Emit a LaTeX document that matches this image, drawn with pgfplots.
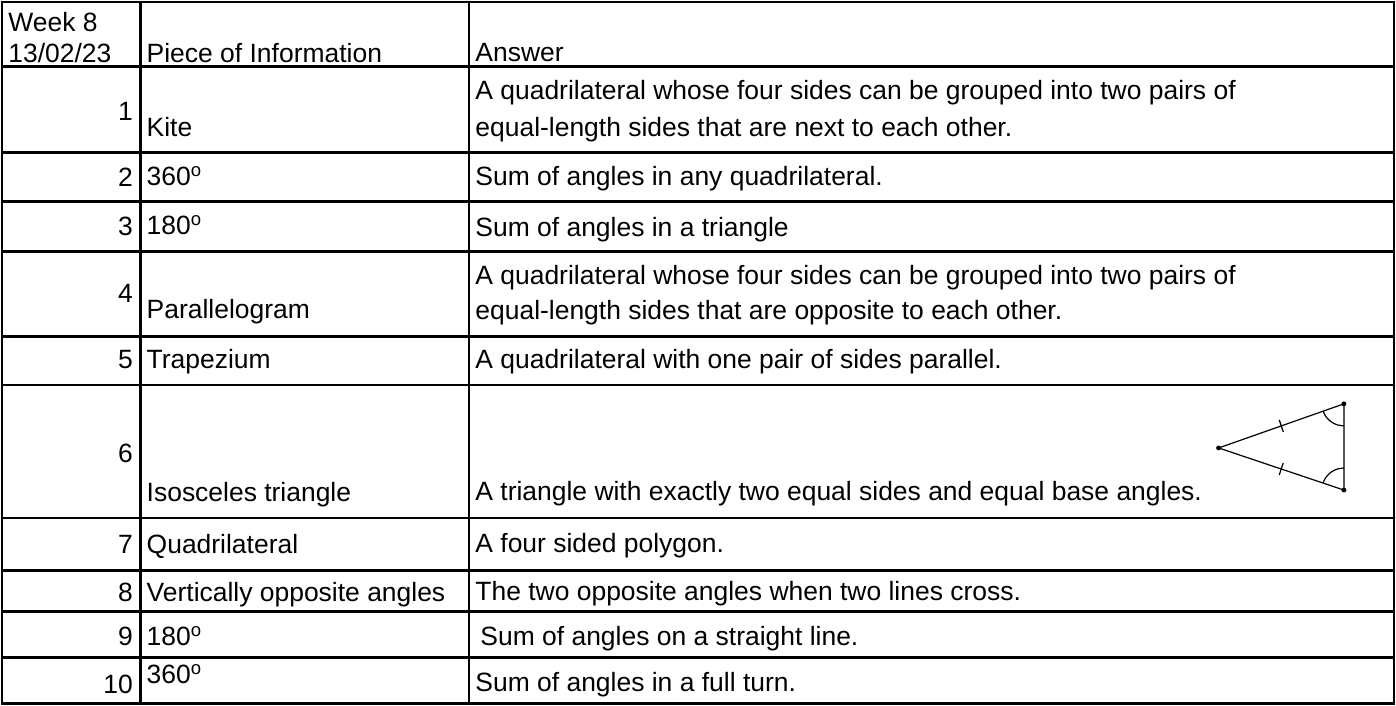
\documentclass[border=0pt]{standalone}
\usepackage{fontspec}
\setmainfont{Liberation Sans}
\usepackage{pgfplots}
\pgfplotsset{compat=1.18}

% superscript o used as the degree sign
\newcommand\dg{\textsuperscript{o}}

\begin{document}
\fontsize{13.2}{16}\selectfont
\begin{tikzpicture}[
  cell/.style={anchor=base west, inner sep=0pt},
  num/.style={anchor=base east, inner sep=0pt},
]
\begin{axis}[
  scale only axis,
  width=694.5pt, height=350pt,
  xmin=4, xmax=1393, ymin=3, ymax=703,
  y dir=reverse,
  axis line style={line width=1.3pt},
  xtick={142,470},
  ytick={67.5,153,202,252,337,385,518,570,611,657},
  xticklabels={}, yticklabels={},
  major tick length=0pt,
  grid=major,
  grid style={black, line width=1.3pt},
  clip=false,
]
\coordinate (bbA) at (axis cs:2,1);
\coordinate (bbB) at (axis cs:1395,705);

% header
\node[cell] at (axis cs:10,32) {Week 8};
\node[cell] at (axis cs:10,63) {13/02/23};
\node[cell] at (axis cs:148,63) {Piece of Information};
\node[cell] at (axis cs:476,62) {Answer};

% rows
\node[num]  at (axis cs:135,121) {1};
\node[cell] at (axis cs:148,137) {Kite};
\node[cell] at (axis cs:476,100) {A quadrilateral whose four sides can be grouped into two pairs of};
\node[cell] at (axis cs:476,137) {equal-length sides that are next to each other.};

\node[num]  at (axis cs:135,187) {2};
\node[cell] at (axis cs:148,186) {360\dg};
\node[cell] at (axis cs:476,186) {Sum of angles in any quadrilateral.};

\node[num]  at (axis cs:135,236) {3};
\node[cell] at (axis cs:148,235) {180\dg};
\node[cell] at (axis cs:476,237) {Sum of angles in a triangle};

\node[num]  at (axis cs:135,303) {4};
\node[cell] at (axis cs:148,319) {Parallelogram};
\node[cell] at (axis cs:476,285) {A quadrilateral whose four sides can be grouped into two pairs of};
\node[cell] at (axis cs:476,320) {equal-length sides that are opposite to each other.};

\node[num]  at (axis cs:135,369) {5};
\node[cell] at (axis cs:148,369) {Trapezium};
\node[cell] at (axis cs:476,369) {A quadrilateral with one pair of sides parallel.};

\node[num]  at (axis cs:135,463) {6};
\node[cell] at (axis cs:148,501) {Isosceles triangle};
\node[cell] at (axis cs:476,500) {A triangle with exactly two equal sides and equal base angles.};

\node[num]  at (axis cs:135,553) {7};
\node[cell] at (axis cs:148,553) {Quadrilateral};
\node[cell] at (axis cs:476,552) {A four sided polygon.};

\node[num]  at (axis cs:135,601) {8};
\node[cell] at (axis cs:148,601) {Vertically opposite angles};
\node[cell] at (axis cs:476,600) {The two opposite angles when two lines cross.};

\node[num]  at (axis cs:135,645) {9};
\node[cell] at (axis cs:148,645) {180\dg};
\node[cell] at (axis cs:481,645) {Sum of angles on a straight line.};

\node[num]  at (axis cs:135,693) {10};
\node[cell] at (axis cs:148,683) {360\dg};
\node[cell] at (axis cs:476,691) {Sum of angles in a full turn.};

% isosceles triangle sketch in row 6
\addplot[black, line width=0.6pt, line join=round] coordinates {
  (1218,448) (1343,404) (1343,490) (1218,448)
};
\addplot[black, line width=0.6pt] coordinates {(1278.5,420) (1282.5,432)};
\addplot[black, line width=0.6pt] coordinates {(1282.5,463) (1278.5,475)};
\addplot[black, line width=0.6pt, smooth] coordinates {
  (1322.3,411.3) (1325.4,417.2) (1330.4,422.0) (1336.2,424.9) (1343,426)
};
\addplot[black, line width=0.6pt, smooth] coordinates {
  (1322.1,483.0) (1325.2,477.1) (1330.1,472.2) (1336.2,469.1) (1343,468)
};
\addplot[only marks, mark=*, mark size=1pt, black] coordinates {
  (1218,448) (1343,404) (1343,490)
};
\end{axis}
\pgfresetboundingbox
\path[use as bounding box] (bbA) rectangle (bbB);
\end{tikzpicture}
\end{document}
